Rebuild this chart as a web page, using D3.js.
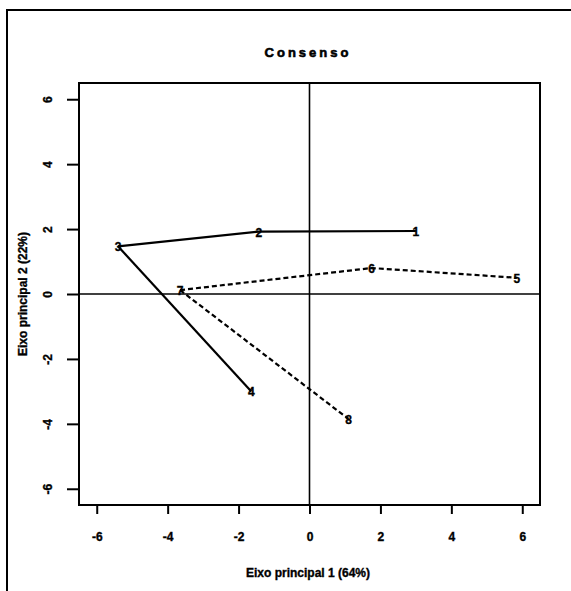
<!DOCTYPE html>
<html>
<head>
<meta charset="utf-8">
<script src="https://cdn.jsdelivr.net/npm/d3@7"></script>
<style>
  body { margin: 0; background: #fff; }
  text { font-family: "Liberation Sans", Arial, sans-serif; font-weight: bold; fill: #000; stroke: #000; stroke-width: 0.35px; }
</style>
</head>
<body>
<svg id="chart" width="571" height="591"></svg>
<script>
// point labels and coordinates on the two principal axes
var labels = ["1", "2", "3", "4", "5", "6", "7", "8"];
var eixo1 = [3.0, -1.43, -5.4, -1.64, 5.85, 1.75, -3.65, 1.1];
var eixo2 = [1.94, 1.92, 1.47, -3.0, 0.5, 0.8, 0.12, -3.85];

// connections between points (by label)
var solidPaths = [["3", "2", "1"], ["3", "4"]];
var dashedPaths = [["7", "6", "5"], ["7", "8"]];

var xTicks = [-6, -4, -2, 0, 2, 4, 6];
var yTicks = [-6, -4, -2, 0, 2, 4, 6];

var svg = d3.select('#chart');

var boxLeft = 79, boxRight = 540, boxTop = 83, boxBottom = 505;

var x = d3.scaleLinear().domain([-6.5, 6.5]).range([boxLeft, boxRight]);
var y = d3.scaleLinear().domain([-6.5, 6.5]).range([boxBottom, boxTop]);

// outer frame (top and left edges visible)
svg.append('path')
   .attr('d', 'M7,591 L7,10 L571,10')
   .attr('fill', 'none')
   .attr('stroke', '#000')
   .attr('stroke-width', 2);

// title
svg.append('text')
   .attr('x', 308)
   .attr('y', 57)
   .attr('text-anchor', 'middle')
   .style('font-size', '13px')
   .style('stroke-width', '0.6px')
   .style('letter-spacing', '3px')
   .text('Consenso');

// plot box
svg.append('rect')
   .attr('x', boxLeft)
   .attr('y', boxTop)
   .attr('width', boxRight - boxLeft)
   .attr('height', boxBottom - boxTop)
   .attr('fill', 'none')
   .attr('stroke', '#000')
   .attr('stroke-width', 2);

// zero lines
svg.append('line')
   .attr('x1', x(0)).attr('x2', x(0))
   .attr('y1', boxTop).attr('y2', boxBottom)
   .attr('stroke', '#000').attr('stroke-width', 1.6);
svg.append('line')
   .attr('x1', boxLeft).attr('x2', boxRight)
   .attr('y1', y(0)).attr('y2', y(0))
   .attr('stroke', '#000').attr('stroke-width', 1.6);

function fmt(d) { return d < 0 ? '-' + Math.abs(d) : d; }

// x axis
var gx = svg.append('g')
   .attr('transform', 'translate(0,' + (boxBottom + 1) + ')')
   .call(d3.axisBottom(x).tickValues(xTicks).tickSize(8).tickPadding(18).tickFormat(fmt));
gx.select('.domain').remove();
gx.selectAll('line').attr('stroke-width', 2);
gx.selectAll('text')
   .style('font-size', '12px')
   .style('font-family', '"Liberation Sans", Arial, sans-serif')
   .style('font-weight', 'bold');

// y axis (labels rotated, as in R)
var gy = svg.append('g')
   .attr('transform', 'translate(' + (boxLeft - 1) + ',0)')
   .call(d3.axisLeft(y).tickValues(yTicks).tickSize(11).tickFormat(fmt));
gy.select('.domain').remove();
gy.selectAll('line').attr('stroke-width', 2);
gy.selectAll('text')
   .attr('x', 0).attr('dy', null)
   .attr('text-anchor', 'middle')
   .attr('transform', 'translate(-26,0) rotate(-90)')
   .style('font-size', '12px')
   .style('font-family', '"Liberation Sans", Arial, sans-serif')
   .style('font-weight', 'bold');

// axis titles
svg.append('text')
   .attr('x', 308)
   .attr('y', 577)
   .attr('text-anchor', 'middle')
   .style('font-size', '12px')
   .text('Eixo principal 1 (64%)');

svg.append('text')
   .attr('transform', 'translate(27,' + y(0) + ') rotate(-90)')
   .attr('text-anchor', 'middle')
   .style('font-size', '12px')
   .text('Eixo principal 2 (22%)');

// point lookup
var points = labels.map(function(l, i) { return { label: l, x: eixo1[i], y: eixo2[i] }; });
var byLabel = {};
points.forEach(function(p) { byLabel[p.label] = p; });

var line = d3.line()
   .x(function(d) { return x(d.x); })
   .y(function(d) { return y(d.y); });

solidPaths.forEach(function(path) {
   svg.append('path')
      .datum(path.map(function(l) { return byLabel[l]; }))
      .attr('d', line)
      .attr('fill', 'none')
      .attr('stroke', '#000')
      .attr('stroke-width', 2.2);
});

dashedPaths.forEach(function(path) {
   svg.append('path')
      .datum(path.map(function(l) { return byLabel[l]; }))
      .attr('d', line)
      .attr('fill', 'none')
      .attr('stroke', '#000')
      .attr('stroke-width', 2.2)
      .attr('stroke-dasharray', '5,3');
});

// point labels
svg.selectAll('.pt')
   .data(points)
   .enter().append('text')
   .attr('class', 'pt')
   .attr('x', function(d) { return x(d.x); })
   .attr('y', function(d) { return y(d.y) + 5; })
   .attr('text-anchor', 'middle')
   .style('font-size', '12px')
   .text(function(d) { return d.label; });
</script>
</body>
</html>
